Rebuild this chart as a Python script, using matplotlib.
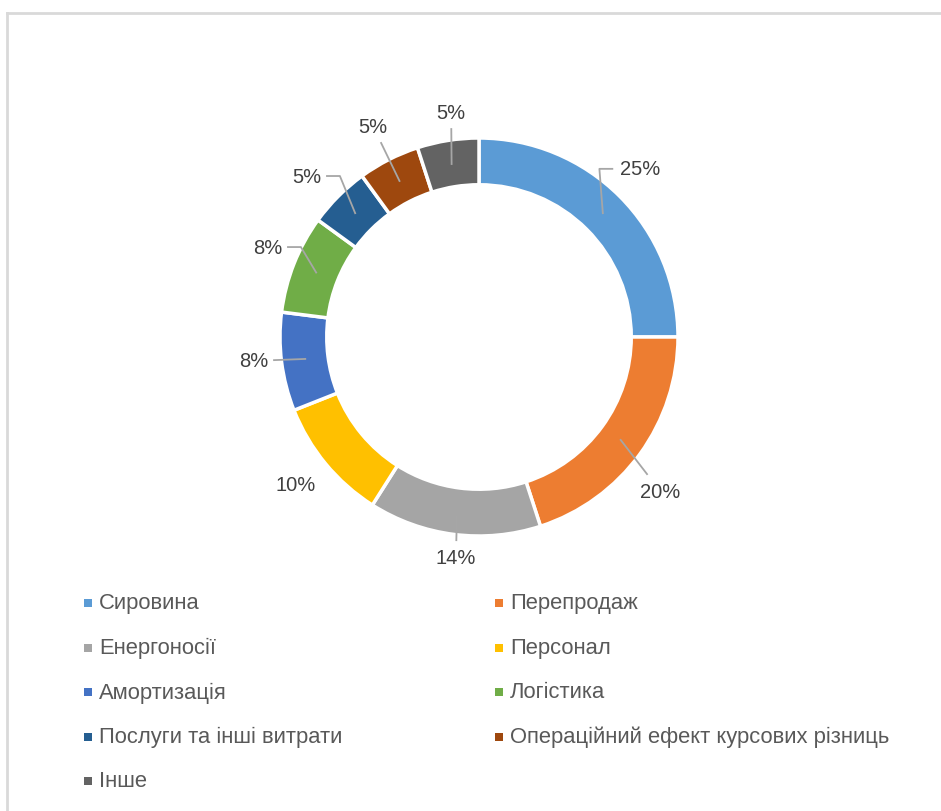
import matplotlib
matplotlib.use("Agg")
import matplotlib.pyplot as plt
import numpy as np
from matplotlib.lines import Line2D
from matplotlib.patches import Rectangle

categories = [
    "Сировина",
    "Перепродаж",
    "Енергоносії",
    "Персонал",
    "Амортизація",
    "Логістика",
    "Послуги та інші витрати",
    "Операційний ефект курсових різниць",
    "Інше",
]
shares = [25, 20, 14, 10, 8, 8, 5, 5, 5]
colors = ["#5B9BD5", "#ED7D31", "#A5A5A5", "#FFC000", "#4472C4",
          "#70AD47", "#255E91", "#9E480E", "#636363"]

# label placement (text centre, ring radius = 1) and leader style
label_xy = [(0.81, 0.845), (0.91, -0.774), (-0.116, -1.106), (-0.92, -0.739),
            (-1.13, -0.12), (-1.06, 0.452), (-0.864, 0.809), (-0.533, 1.06),
            (-0.14, 1.13)]
leader = ["elbow", "straight", "straight", None, "straight",
          "elbow", "elbow", "straight", "straight"]

W, H = 941, 812
plt.rcParams["font.family"] = ["Liberation Sans", "DejaVu Sans"]
fig = plt.figure(figsize=(W / 100, H / 100), dpi=100)
fig.patch.set_facecolor("white")

# chart-area frame (only top and left edges fall inside the canvas)
frame_c = "#D9D9D9"
fig.add_artist(Line2D([7 / W, 1.0], [1 - 13.5 / H, 1 - 13.5 / H], color=frame_c, lw=2,
                      transform=fig.transFigure))
fig.add_artist(Line2D([7 / W, 7 / W], [0.0, 1 - 13.5 / H], color=frame_c, lw=2,
                      transform=fig.transFigure))

cx, cy, R, half = 479, 338, 199, 300
ax = fig.add_axes([(cx - half) / W, (H - cy - half) / H, 2 * half / W, 2 * half / H])

wedges, _ = ax.pie(shares, colors=colors, startangle=90, counterclock=False,
                   radius=1.0, wedgeprops=dict(width=0.235, edgecolor="white", linewidth=2.5))
lim = half / R
ax.set_xlim(-lim, lim)
ax.set_ylim(-lim, lim)
ax.set_aspect("equal")
ax.axis("off")

lead_c = "#A6A6A6"
for w, v, (lx, ly), kind in zip(wedges, shares, label_xy, leader):
    txt = f"{v}%"
    ax.text(lx, ly, txt, ha="center", va="center", fontsize=14.5, color="#404040")
    if kind is None:
        continue
    ang = np.deg2rad((w.theta1 + w.theta2) / 2)
    sx, sy = 0.88 * np.cos(ang), 0.88 * np.sin(ang)
    hw = 0.04 * len(txt) + 0.02
    hh = 0.085
    if kind == "elbow":
        sgn = 1 if lx > sx else -1
        ex = lx - sgn * hw
        ax.plot([sx, ex - sgn * 0.065, ex], [sy, ly, ly], color=lead_c, lw=1.3)
    else:
        dx, dy = sx - lx, sy - ly
        t = min(hw / abs(dx) if dx else np.inf, hh / abs(dy) if dy else np.inf)
        ax.plot([sx, lx + t * dx], [sy, ly + t * dy], color=lead_c, lw=1.3)

# legend, two columns filled row by row
col_x = [84, 495]
row_y0, row_dy = 604, 44.5
for i, (name, c) in enumerate(zip(categories, colors)):
    x = col_x[i % 2]
    y = row_y0 + (i // 2) * row_dy
    fig.add_artist(Rectangle((x / W, 1 - (y + 4) / H), 8 / W, 8 / H, facecolor=c,
                             edgecolor="none", transform=fig.transFigure))
    fig.text((x + 15) / W, 1 - y / H, name, ha="left", va="center",
             fontsize=15.8, color="#595959")

fig.savefig("out.png", dpi=100, facecolor="white")
